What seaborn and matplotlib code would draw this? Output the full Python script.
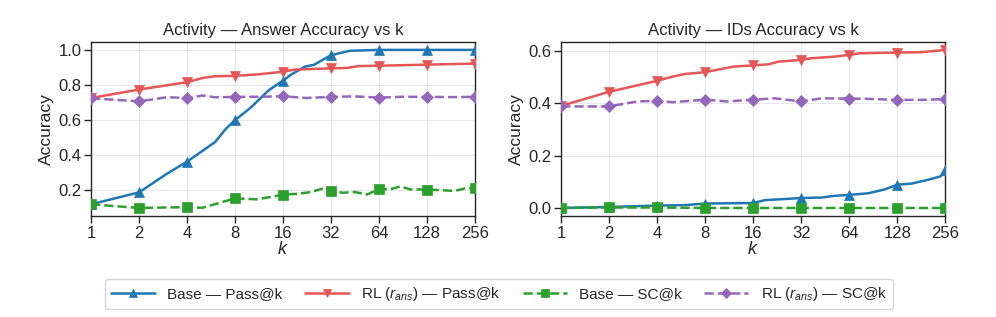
import numpy as np
import matplotlib
matplotlib.use("Agg")
import matplotlib.pyplot as plt
import seaborn as sns

# ---------------- data ----------------
x_ticks = [1, 2, 4, 8, 16, 32, 64, 128, 256]
x_tick_labels = ["1", "2", "4", "8", "16", "32", "64", "128", "256"]

titles = ["Activity — Answer Accuracy vs k", "Activity — IDs Accuracy vs k"]
series_labels = ["Base — Pass@k", r"RL ($r_{ans}$) — Pass@k",
                 "Base — SC@k", r"RL ($r_{ans}$) — SC@k"]

# Left panel: Answer accuracy
ans_base_pass_k = [1, 2, 3, 4, 6, 7, 8, 10, 13, 16, 18, 22, 25, 32, 42, 64, 128, 256]
ans_base_pass = [0.12, 0.188, 0.295, 0.363, 0.475, 0.55, 0.60, 0.67, 0.77, 0.825,
                 0.86, 0.905, 0.915, 0.97, 0.995, 1.0, 1.0, 1.0]

ans_rl_pass_k = [1, 2, 4, 5, 6, 8, 11, 16, 19, 32, 40, 48, 64, 128, 256]
ans_rl_pass = [0.726, 0.774, 0.816, 0.84, 0.85, 0.852, 0.86, 0.876, 0.888, 0.895,
               0.897, 0.908, 0.91, 0.916, 0.922]

ans_base_sc_k = [1, 2, 4, 5, 8, 11, 16, 20, 24, 29, 32, 38, 45, 54, 64, 75, 87,
                 100, 128, 160, 190, 220, 256]
ans_base_sc = [0.12, 0.099, 0.104, 0.100, 0.154, 0.148, 0.175, 0.18, 0.19, 0.212,
               0.195, 0.186, 0.19, 0.176, 0.208, 0.205, 0.222, 0.205, 0.204, 0.20,
               0.196, 0.21, 0.213]

ans_rl_sc_k = [1, 2, 3, 4, 5, 6, 8, 12, 16, 22, 32, 45, 64, 90, 128, 180, 256]
ans_rl_sc = [0.724, 0.707, 0.73, 0.726, 0.74, 0.73, 0.732, 0.733, 0.736, 0.726,
             0.732, 0.735, 0.728, 0.733, 0.732, 0.731, 0.732]

# Right panel: IDs accuracy
ids_base_pass_k = [1, 2, 4, 6, 8, 16, 19, 25, 32, 43, 51, 64, 84, 107, 128, 157,
                   198, 240, 256]
ids_base_pass = [0.0, 0.004, 0.009, 0.011, 0.017, 0.019, 0.030, 0.034, 0.038, 0.040,
                 0.046, 0.050, 0.056, 0.071, 0.089, 0.093, 0.107, 0.121, 0.146]

ids_rl_pass_k = [1, 2, 4, 5, 6, 8, 12, 16, 20, 23, 32, 37, 51, 64, 75, 128, 178, 256]
ids_rl_pass = [0.39, 0.444, 0.486, 0.502, 0.512, 0.519, 0.54, 0.545, 0.549, 0.559,
               0.566, 0.572, 0.578, 0.585, 0.591, 0.594, 0.595, 0.604]

ids_base_sc_k = [1, 2, 4, 8, 16, 32, 64, 128, 256]
ids_base_sc = [0.0, 0.002, 0.002, 0.0, 0.0, 0.0, 0.0, 0.0, 0.0]

ids_rl_sc_k = [1, 2, 3, 4, 5, 8, 11, 16, 22, 32, 43, 64, 83, 128, 180, 256]
ids_rl_sc = [0.388, 0.388, 0.407, 0.41, 0.404, 0.414, 0.407, 0.414, 0.419, 0.407,
             0.419, 0.418, 0.417, 0.413, 0.413, 0.416]

# ---------------- style ----------------
sns.set_theme(style="ticks")
plt.rcParams["font.family"] = ["Liberation Sans", "DejaVu Sans"]
plt.rcParams["mathtext.fontset"] = "custom"
plt.rcParams["mathtext.it"] = "Liberation Sans:italic"
plt.rcParams["mathtext.rm"] = "Liberation Sans"

colors = ["#1f77b4", "#e45756", "#2ca02c", "#9467bd"]
markers = ["^", "v", "s", "D"]
styles = ["-", "-", "--", "--"]
msizes = [6.5, 6.5, 6.5, 6.5]

fig, axes = plt.subplots(1, 2, figsize=(9.96, 3.17), dpi=100)
fig.subplots_adjust(left=0.0914, right=0.949, top=0.8675, bottom=0.319, wspace=0.224)

panels = [
    [(ans_base_pass_k, ans_base_pass), (ans_rl_pass_k, ans_rl_pass),
     (ans_base_sc_k, ans_base_sc), (ans_rl_sc_k, ans_rl_sc)],
    [(ids_base_pass_k, ids_base_pass), (ids_rl_pass_k, ids_rl_pass),
     (ids_base_sc_k, ids_base_sc), (ids_rl_sc_k, ids_rl_sc)],
]

for ax, panel, title in zip(axes, panels, titles):
    for i, (ks, vals) in enumerate(panel):
        mevery = [j for j, kk in enumerate(ks) if kk in x_ticks]
        sns.lineplot(x=ks, y=vals, ax=ax, color=colors[i], linestyle=styles[i],
                     marker=markers[i], markersize=msizes[i], markevery=mevery,
                     markeredgecolor=colors[i], markeredgewidth=0.5,
                     linewidth=1.8, label=series_labels[i], zorder=3)
    ax.set_xscale("log", base=2)
    ax.set_xlim(1, 256)
    ax.set_xticks(x_ticks)
    ax.set_xticklabels(x_tick_labels)
    ax.minorticks_off()
    ax.grid(True, color="#e8e8e8", linewidth=0.8, zorder=0)
    ax.set_axisbelow(True)
    ax.set_title(title, fontsize=12, pad=5)
    ax.set_xlabel("$k$", fontsize=13, labelpad=0)
    ax.set_ylabel("Accuracy", fontsize=12.5, labelpad=3)
    ax.tick_params(labelsize=12, length=5, width=1, pad=2)
    for sp in ax.spines.values():
        sp.set_color("#262626")
        sp.set_linewidth(1.0)

axes[0].set_yticks([0.2, 0.4, 0.6, 0.8, 1.0])
axes[1].set_yticks([0.0, 0.2, 0.4, 0.6])

handles, labels = axes[0].get_legend_handles_labels()
for ax in axes:
    ax.get_legend().remove()

fig.legend(handles, labels, loc="center", bbox_to_anchor=(0.501, 0.073), ncol=4,
           fontsize=11, frameon=True, handlelength=2.9, columnspacing=1.45,
           handletextpad=0.8, borderpad=0.4, fancybox=True, edgecolor="#cccccc",
           markerscale=0.8)

fig.savefig("out.png", dpi=100)
